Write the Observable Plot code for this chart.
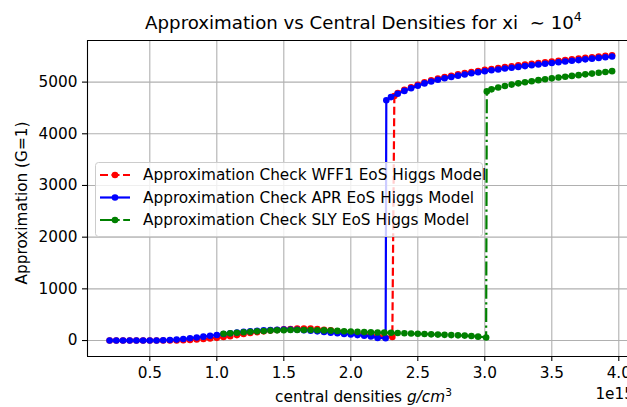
<!DOCTYPE html>
<html><head><meta charset="utf-8">
<script src="https://cdn.jsdelivr.net/npm/d3@7"></script>
<script src="https://cdn.jsdelivr.net/npm/@observablehq/plot@0.6"></script>
<style>
html,body{margin:0;padding:0;background:#fff;overflow:hidden;}
#chart{width:627px;height:407px;position:relative;overflow:hidden;}
</style></head><body><div id="chart"></div>
<script>
// central densities in units of 1e15 g/cm^3
const wffX = [0.20,0.25,0.30,0.35,0.40,0.45,0.50,0.55,0.60,0.65,0.70,0.75,0.80,0.85,0.90,0.95,1.00,1.05,1.10,1.15,1.20,1.25,1.30,1.35,1.40,1.45,1.50,1.55,1.60,1.65,1.70,1.75,1.80,1.85,1.90,1.95,2.00,2.05,2.10,2.15,2.20,2.25,2.31,
  2.325,2.35,2.40,2.45,2.50,2.55,2.60,2.65,2.70,2.75,2.80,2.85,2.90,2.95,3.00,3.05,3.10,3.15,3.20,3.25,3.30,3.35,3.40,3.45,3.50,3.55,3.60,3.65,3.70,3.75,3.80,3.85,3.90,3.95];
const wffY = [0,0,0,0,0,0,0,0,0,0,0,5,12,20,30,40,52,68,85,105,125,145,162,178,192,205,215,224,230,233,230,222,210,196,180,165,150,135,120,105,92,80,70,
  4730,4790,4850,4900,4950,4995,5035,5068,5098,5124,5150,5173,5195,5216,5236,5255,5273,5290,5307,5323,5339,5355,5370,5385,5400,5414,5428,5442,5456,5469,5482,5495,5508,5520];

const aprX = [0.20,0.25,0.30,0.35,0.40,0.45,0.50,0.55,0.60,0.65,0.70,0.75,0.80,0.85,0.90,0.95,1.00,1.05,1.10,1.15,1.20,1.25,1.30,1.35,1.40,1.45,1.50,1.55,1.60,1.65,1.70,1.75,1.80,1.85,1.90,1.95,2.00,2.05,2.10,2.15,2.20,2.26,
  2.265,2.30,2.35,2.40,2.45,2.50,2.55,2.60,2.65,2.70,2.75,2.80,2.85,2.90,2.95,3.00,3.05,3.10,3.15,3.20,3.25,3.30,3.35,3.40,3.45,3.50,3.55,3.60,3.65,3.70,3.75,3.80,3.85,3.90,3.95];
const aprY = [0,0,0,0,0,0,0,2,5,10,18,30,45,60,75,92,108,125,140,155,168,180,190,198,205,210,212,212,208,200,190,178,165,152,140,128,118,105,92,80,50,45,
  4650,4710,4775,4830,4880,4930,4975,5012,5045,5075,5100,5125,5148,5170,5190,5210,5228,5245,5262,5278,5294,5310,5325,5340,5355,5370,5384,5398,5412,5426,5440,5454,5468,5482,5496];

const slyX = [1.05,1.10,1.15,1.20,1.25,1.30,1.35,1.40,1.45,1.50,1.55,1.60,1.65,1.70,1.75,1.80,1.85,1.90,1.95,2.00,2.05,2.10,2.15,2.20,2.25,2.30,2.35,2.40,2.45,2.50,2.55,2.60,2.65,2.70,2.75,2.80,2.85,2.90,2.95,3.01,
  3.015,3.05,3.10,3.15,3.20,3.25,3.30,3.35,3.40,3.45,3.50,3.55,3.60,3.65,3.70,3.75,3.80,3.85,3.90,3.95];
const slyY = [130,140,150,160,170,178,185,192,197,200,203,205,205,204,200,196,191,186,180,174,168,163,158,155,152,150,145,140,135,130,125,120,115,110,105,100,95,88,75,60,
  4820,4860,4895,4925,4952,4976,4998,5018,5038,5056,5073,5089,5105,5120,5135,5150,5165,5180,5195,5212];

const seriesNames = ["Approximation Check WFF1 EoS Higgs Model","Approximation Check APR EoS Higgs Model","Approximation Check SLY EoS Higgs Model"];
const seriesColors = ["#ff0000","#0000ff","#008000"];
const seriesDash = ["8,3.5", null, "14,3.5,2.2,3.5"];
const xTicks = [0.5,1.0,1.5,2.0,2.5,3.0,3.5,4.0];
const yTicks = [0,1000,2000,3000,4000,5000];

const seriesData = [[wffX,wffY],[aprX,aprY],[slyX,slyY]].map(([xs,ys]) => xs.map((x,i)=>({x, y: ys[i]})));

const xDom = [0.035, 4.065];
const yDom = [-309, 5805];
const FS = "15.3px";

const seriesMarks = seriesData.flatMap((rows, k) => [
  Plot.line(rows, {x:"x", y:"y", stroke: seriesColors[k], strokeWidth: 2.2, strokeDasharray: seriesDash[k] || undefined, strokeLinejoin:"round", strokeLinecap:"butt"}),
  Plot.dot(rows, {x:"x", y:"y", r: 3.3, fill: seriesColors[k], stroke: "none"})
]);

const chart = Plot.plot({
  width: 627, height: 407,
  marginLeft: 87, marginRight: 0, marginTop: 40, marginBottom: 51,
  x: {domain: xDom},
  y: {domain: yDom},
  style: {fontFamily: "DejaVu Sans", fontSize: FS, color: "#000", background: "#fff"},
  marks: [
    Plot.gridX(xTicks, {stroke: "#b0b0b0", strokeOpacity: 1, strokeWidth: 1.1}),
    Plot.gridY(yTicks, {stroke: "#b0b0b0", strokeOpacity: 1, strokeWidth: 1.1}),
    ...seriesMarks,
    Plot.ruleX([xDom[0]], {stroke: "#000", strokeWidth: 1.1}),
    Plot.ruleY(yDom, {stroke: "#000", strokeWidth: 1.1}),
    Plot.axisX(xTicks, {tickSize: 5, tickPadding: 6, tickFormat: d3.format(".1f"), label: null, strokeWidth: 1.1}),
    Plot.axisY(yTicks, {tickSize: 5, tickPadding: 5, tickFormat: d3.format("d"), label: null, strokeWidth: 1.1})
  ]
});
document.getElementById("chart").appendChild(chart);

const svg = d3.select(chart);
const cx = 363.5;
// title
const t = svg.append("text").attr("x", cx).attr("y", 29).attr("text-anchor","middle")
  .attr("font-family","DejaVu Sans").attr("font-size","18.2px").attr("fill","#000");
t.append("tspan").text("Approximation vs Central Densities for xi  \u223C 10");
t.append("tspan").attr("dy", -8).attr("font-size","12.7px").text("4");

// x label
const xl = svg.append("text").attr("x", cx).attr("y", 402).attr("text-anchor","middle")
  .attr("font-family","DejaVu Sans").attr("font-size",FS).attr("fill","#000");
xl.append("tspan").text("central densities ");
xl.append("tspan").attr("font-style","italic").text("g/cm");
xl.append("tspan").attr("dy", -6).attr("font-size","10.6px").text("3");

// offset text
svg.append("text").attr("x", 634).attr("y", 399).attr("text-anchor","end")
  .attr("font-family","DejaVu Sans").attr("font-size",FS).attr("fill","#000").text("1e15");

// y label
svg.append("text").attr("transform","translate(22,203) rotate(-90)").attr("text-anchor","middle")
  .attr("dominant-baseline","central")
  .attr("font-family","DejaVu Sans").attr("font-size",FS).attr("fill","#000").text("Approximation (G=1)");

// legend
const lg = svg.append("g");
lg.append("rect").attr("x", 95.5).attr("y", 162.5).attr("width", 387).attr("height", 74).attr("rx", 3)
  .attr("fill","#fff").attr("fill-opacity",0.8).attr("stroke","#cccccc").attr("stroke-width",1);
seriesNames.forEach((name, k) => {
  const yy = 175 + k * 22.5;
  lg.append("line").attr("x1", 100).attr("x2", 130).attr("y1", yy).attr("y2", yy)
    .attr("stroke", seriesColors[k]).attr("stroke-width", 2.2)
    .attr("stroke-dasharray", seriesDash[k] || null);
  lg.append("circle").attr("cx", 115).attr("cy", yy).attr("r", 3.3).attr("fill", seriesColors[k]);
  lg.append("text").attr("x", 143).attr("y", yy).attr("text-anchor","start").attr("dominant-baseline","central")
    .attr("font-family","DejaVu Sans").attr("font-size",FS).attr("fill","#000").text(name);
});
</script>
</body></html>
